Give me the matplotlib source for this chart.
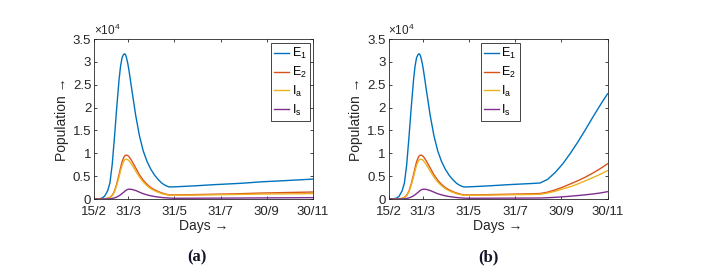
import matplotlib.pyplot as plt

# days counted from 15/2
tick_days = [0, 45, 106, 167, 228, 289]
tick_labels = ['15/2', '31/3', '31/5', '31/7', '30/9', '30/11']

# first wave, common to both panels
days_a = [0, 5, 10, 14, 18, 21, 24, 27, 30, 33, 35, 37, 39, 40, 41, 42, 43, 44.5, 46,
          50, 55, 60, 65, 70, 75, 80, 85, 90, 95, 99, 105, 130, 160, 190, 200, 220,
          250, 289]
e1_a = [0, 20, 150, 600, 1800, 3500, 7500, 13500, 20000, 26000, 29000, 30900, 31600,
        31750, 31700, 31400, 30800, 29700, 28300, 23800, 18300, 13800, 10500, 8200,
        6500, 5200, 4200, 3400, 2900, 2650, 2650, 2850, 3150, 3400, 3500, 3750, 4000,
        4350]
e2_a = [0, 0, 10, 40, 150, 350, 800, 1700, 3300, 5300, 6800, 8100, 9000, 9300, 9500,
        9580, 9600, 9500, 9300, 8300, 6800, 5300, 4100, 3200, 2500, 2000, 1600, 1300,
        1050, 900, 880, 950, 1050, 1150, 1200, 1300, 1400, 1530]
ia_a = [0, 0, 10, 35, 130, 320, 720, 1550, 3000, 4800, 6150, 7350, 8200, 8450, 8650,
        8700, 8700, 8600, 8400, 7500, 6100, 4800, 3700, 2900, 2250, 1800, 1450, 1150,
        950, 820, 800, 850, 920, 1000, 1030, 1080, 1120, 1180]
is_a = [0, 0, 0, 5, 20, 50, 110, 230, 430, 700, 920, 1200, 1450, 1600, 1750, 1870,
        1980, 2100, 2150, 2100, 1850, 1500, 1150, 900, 700, 540, 420, 320, 250, 200,
        160, 170, 190, 210, 220, 240, 260, 300]

# panel (b): second rise after ~day 200
days_b = days_a[:-3] + [210, 220, 230, 240, 250, 260, 270, 280, 289]
e1_b = e1_a[:-3] + [4300, 5800, 7700, 10000, 12500, 15200, 18000, 20700, 23000]
e2_b = e2_a[:-3] + [1500, 2000, 2600, 3300, 4000, 4800, 5700, 6700, 7700]
ia_b = ia_a[:-3] + [1300, 1700, 2200, 2700, 3300, 4000, 4700, 5450, 6200]
is_b = is_a[:-3] + [280, 370, 480, 610, 760, 920, 1100, 1330, 1600]

names = ['E$_1$', 'E$_2$', 'I$_a$', 'I$_s$']
colors = ['#0072BD', '#D95319', '#EDB120', '#7E2F8E']

plt.rcParams['font.family'] = ['Liberation Sans', 'DejaVu Sans']
plt.rcParams['mathtext.fontset'] = 'custom'
plt.rcParams['mathtext.rm'] = 'Liberation Sans'
plt.rcParams['mathtext.it'] = 'Liberation Sans'

fig = plt.figure(figsize=(7.05, 2.7), dpi=100)
ax1 = fig.add_axes([94 / 705, 71 / 270, 219 / 705, 160 / 270])
ax2 = fig.add_axes([388.5 / 705, 71 / 270, 219 / 705, 160 / 270])

panels = [(ax1, days_a, [e1_a, e2_a, ia_a, is_a], (0.985, 0.975), 'upper right'),
          (ax2, days_b, [e1_b, e2_b, ia_b, is_b], (0.51, 0.975), 'upper center')]

for ax, d, series, legpos, legloc in panels:
    for s, c, n in zip(series, colors, names):
        ax.plot(d, s, color=c, lw=1.0, label=n)
    ax.set_xlim(0, 289)
    ax.set_ylim(0, 35000)
    ax.set_xticks(tick_days)
    ax.set_xticklabels(tick_labels)
    ax.set_yticks([0, 5000, 10000, 15000, 20000, 25000, 30000, 35000])
    ax.set_yticklabels(['0', '0.5', '1', '1.5', '2', '2.5', '3', '3.5'])
    ax.tick_params(direction='in', top=True, right=True, labelsize=9.5,
                   colors='#262626', length=2.5, width=0.6)
    ax.tick_params(axis='x', pad=5)
    ax.tick_params(axis='y', pad=2)
    for sp in ax.spines.values():
        sp.set_color('#262626')
        sp.set_linewidth(0.6)
    ax.text(0.0, 1.005, r'$\times10^4$', transform=ax.transAxes, fontsize=8.5,
            color='#262626', va='bottom', ha='left')
    ax.set_xlabel('Days \u2192', fontsize=10, color='#262626', labelpad=1)
    ax.set_ylabel('Population \u2192', fontsize=10, color='#262626', labelpad=3)
    leg = ax.legend(loc=legloc, bbox_to_anchor=legpos, fontsize=9,
                    handlelength=1.2, handletextpad=0.2, borderpad=0.25,
                    labelspacing=0.3, fancybox=False, framealpha=1,
                    edgecolor='#262626', borderaxespad=0)
    leg.get_frame().set_linewidth(0.6)

for x, lab in [(197, '(a)'), (488, '(b)')]:
    fig.text(x / 705, 1 - 257 / 270, lab, fontsize=12, fontweight='bold',
             family=['Liberation Serif', 'DejaVu Serif'], ha='center',
             va='center', color='#141428')

fig.savefig('out.png', dpi=100)
